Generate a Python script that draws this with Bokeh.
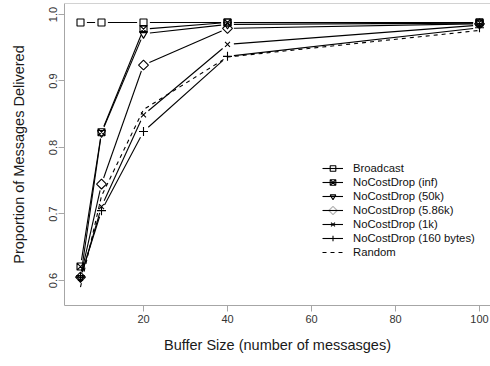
import numpy as np
from bokeh.plotting import figure
from bokeh.models import (Range1d, FixedTicker, PrintfTickFormatter, Legend, LegendItem,
                          Span, PolyAnnotation)
from bokeh.embed import file_html
from bokeh.resources import INLINE

# Buffer sizes tested and the fraction of messages delivered for each policy
buffer_sizes = [5, 10, 20, 40, 100]
broadcast = [0.988, 0.988, 0.988, 0.988, 0.988]
ncd_inf = [0.621, 0.823, 0.978, 0.988, 0.988]
ncd_50k = [0.604, 0.822, 0.971, 0.985, 0.987]
ncd_586k = [0.605, 0.745, 0.924, 0.979, 0.986]
ncd_1k = [0.603, 0.711, 0.849, 0.955, 0.984]
ncd_160b = [0.605, 0.705, 0.824, 0.937, 0.980]
random_drop = [0.590, 0.727, 0.857, 0.936, 0.976]

x_ticks = [20, 40, 60, 80, 100]
y_ticks = [0.6, 0.7, 0.8, 0.9, 1.0]

FONT = "Liberation Sans"
W, H = 490, 366
LEFT, BOTTOM, TOP = 64, 61, 3
X0, X1 = 1.19, 102.62
Y0, Y1 = 0.5624, 1.0165
FRAME_GREY = "#a6a6a6"

p = figure(width=W, height=H, output_backend="svg", toolbar_location=None,
           x_range=Range1d(X0, X1), y_range=Range1d(Y0, Y1),
           min_border_left=LEFT, min_border_bottom=BOTTOM,
           min_border_top=TOP, min_border_right=0)
p.outline_line_color = None
p.xgrid.visible = False
p.ygrid.visible = False
p.background_fill_color = "white"
p.border_fill_color = "white"

# top edge of the plot box (the right edge falls outside the page)
p.add_layout(Span(location=Y1, dimension="width", line_color=FRAME_GREY, line_width=1))

# pixel scale, used to leave a small gap between each point and its connecting lines
sx = (W - LEFT) / (X1 - X0)
sy = (H - BOTTOM - TOP) / (Y1 - Y0)


def gapped(xs, ys, d=6.4):
    xa, ya, xb, yb = [], [], [], []
    for i in range(len(xs) - 1):
        dx = (xs[i + 1] - xs[i]) * sx
        dy = (ys[i + 1] - ys[i]) * sy
        L = np.hypot(dx, dy)
        if L <= 2 * d:
            continue
        f = d / L
        xa.append(xs[i] + f * (xs[i + 1] - xs[i]))
        ya.append(ys[i] + f * (ys[i + 1] - ys[i]))
        xb.append(xs[i + 1] - f * (xs[i + 1] - xs[i]))
        yb.append(ys[i + 1] - f * (ys[i + 1] - ys[i]))
    return xa, ya, xb, yb


series = [
    ("Broadcast", broadcast, dict(marker="square", size=7)),
    ("NoCostDrop (inf)", ncd_inf, dict(marker="square_x", size=7)),
    ("NoCostDrop (50k)", ncd_50k, dict(marker="inverted_triangle", size=8)),
    ("NoCostDrop (5.86k)", ncd_586k, dict(marker="square", size=7, angle=np.pi / 4)),
    ("NoCostDrop (1k)", ncd_1k, dict(marker="x", size=7)),
    ("NoCostDrop (160 bytes)", ncd_160b, dict(marker="cross", size=9)),
]

items = []
for label, ys, mk in series:
    xa, ya, xb, yb = gapped(buffer_sizes, ys)
    seg = p.segment(xa, ya, xb, yb, line_color="black", line_width=1.1)
    sc = p.scatter(buffer_sizes, ys, fill_color=None, line_color="black",
                   line_width=1.1, **mk)
    # legend markers are never rotated, so the diamond key is drawn separately
    rends = [seg] if "angle" in mk else [seg, sc]
    items.append(LegendItem(label=label, renderers=rends))

rnd = p.line(buffer_sizes, random_drop, line_color="black", line_width=1.1,
             line_dash="4 4")
items.append(LegendItem(label="Random", renderers=[rnd]))

LEG_X, LEG_Y, ROW, GLYPH_W = 258, 46, 14, 21
legend = Legend(items=items, location=(LEG_X, LEG_Y), padding=0, margin=0, spacing=0,
                glyph_width=GLYPH_W, glyph_height=ROW, label_height=ROW, label_standoff=10,
                border_line_color=None, background_fill_alpha=0,
                label_text_font=FONT, label_text_font_size="11.3px",
                label_text_color="#111111")
p.add_layout(legend)

# diamond key for the 5.86k row (4th row from the top), in screen units of the frame
cx = LEG_X + GLYPH_W / 2
cy = LEG_Y + (len(items) - 4) * ROW + ROW / 2
r = 4.2
p.add_layout(PolyAnnotation(xs=[cx, cx + r, cx, cx - r], ys=[cy + r, cy, cy - r, cy],
                            xs_units="screen", ys_units="screen",
                            fill_alpha=0, line_color="black", line_width=1.1))

# axes
p.xaxis.ticker = FixedTicker(ticks=x_ticks)
p.yaxis.ticker = FixedTicker(ticks=y_ticks)
p.yaxis.formatter = PrintfTickFormatter(format="%.1f")
p.xaxis.axis_label = "Buffer Size (number of messasges)"
p.yaxis.axis_label = "Proportion of Messages Delivered"
for ax in (p.xaxis, p.yaxis):
    ax.axis_line_color = FRAME_GREY
    ax.major_tick_line_color = FRAME_GREY
    ax.minor_tick_line_color = None
    ax.major_tick_out = 6
    ax.major_tick_in = 0
    ax.major_label_text_font = FONT
    ax.major_label_text_font_size = "11px"
    ax.major_label_text_color = "#333333"
    ax.axis_label_text_font = FONT
    ax.axis_label_text_font_size = "14.5px"
    ax.axis_label_text_font_style = "normal"
    ax.axis_label_text_color = "#1a1a1a"
p.yaxis.major_label_orientation = "vertical"
p.yaxis.major_label_standoff = 1
p.xaxis.major_label_standoff = 3
p.xaxis.axis_label_standoff = 11
p.yaxis.axis_label_standoff = 20

open("out.html", "w").write(file_html(p, INLINE))
